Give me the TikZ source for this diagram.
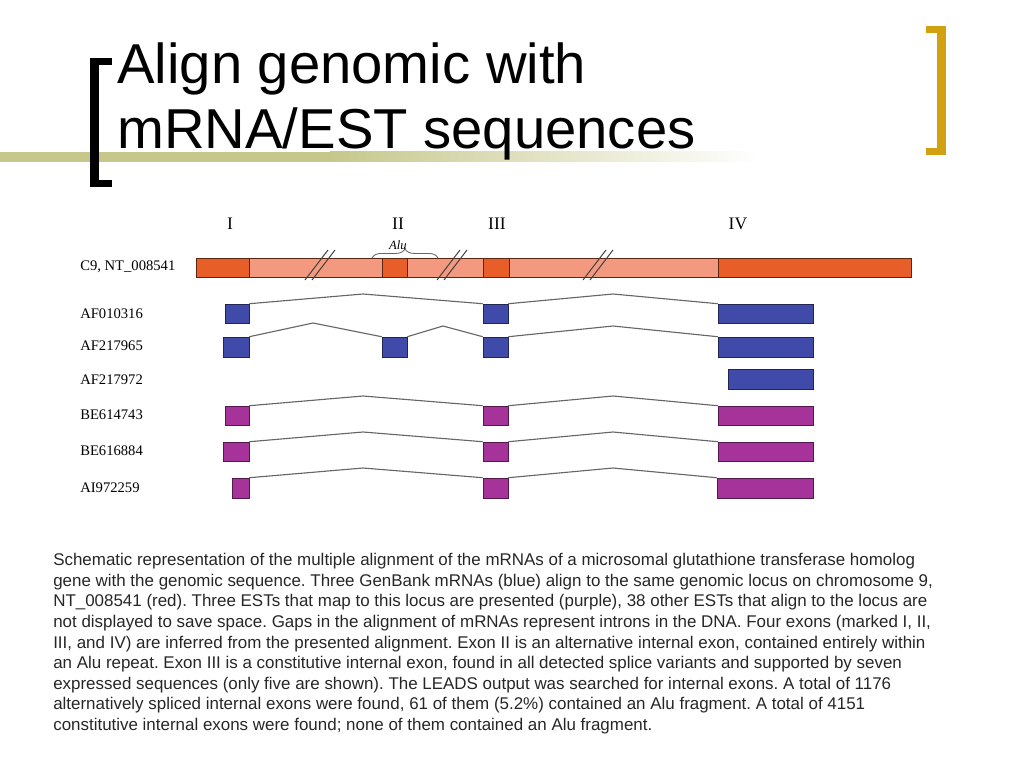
\documentclass[tikz,border=0pt]{standalone}
\usepackage{fontspec}
\setmainfont{Liberation Serif}
\newfontfamily\headfont{Liberation Sans}
\usepackage{xcolor}
\usepackage{tikz}
\usetikzlibrary{positioning, fit, calc, decorations.pathreplacing}
\definecolor{exonorange}{rgb}{0.91, 0.37, 0.16}
\definecolor{intronsalmon}{rgb}{0.95, 0.60, 0.50}
\definecolor{mrnablue}{rgb}{0.25, 0.29, 0.66}
\definecolor{estpurple}{rgb}{0.65, 0.20, 0.60}
\definecolor{bracketgold}{rgb}{0.82, 0.63, 0.07}
\definecolor{bandolive}{rgb}{0.78, 0.78, 0.55}
\definecolor{captiongray}{rgb}{0.15, 0.15, 0.15}

\begin{document}
\frenchspacing
\begin{tikzpicture}[x=0.025cm, y=-0.025cm]
\useasboundingbox (0,0) rectangle (1024,768);
\tikzstyle{gexon}=[draw=black!60!exonorange, fill=exonorange, inner sep=0pt, line width=0.4pt]
\tikzstyle{gintron}=[draw=black!60!exonorange, fill=intronsalmon, inner sep=0pt, line width=0.4pt]
\tikzstyle{mexon}=[draw=black!50!mrnablue, fill=mrnablue, inner sep=0pt, line width=0.4pt]
\tikzstyle{eexon}=[draw=black!50!estpurple, fill=estpurple, inner sep=0pt, line width=0.4pt]
\tikzstyle{intron}=[draw=black!60, line width=0.8pt]
\tikzstyle{cutmark}=[draw=black!75, line width=0.7pt]
\tikzstyle{seqlabel}=[anchor=west, inner sep=0pt, font=\fontsize{10.4}{12}\selectfont]
\tikzstyle{exonmark}=[inner sep=0pt, font=\fontsize{12.5}{14}\selectfont]
\tikzstyle{titleline}=[anchor=base west, inner sep=0pt, font=\headfont\fontsize{40}{46}\selectfont]
%% title and slide decoration
\fill[bandolive] (0,152) rectangle (330,162);
\shade[left color=bandolive, right color=white] (330,152) rectangle (760,162);
\fill[black] (90,58) rectangle (99,187);
\fill[black] (90,58) rectangle (112,65);
\fill[black] (90,180) rectangle (112,187);
\fill[bracketgold] (937,26) rectangle (946,155);
\fill[bracketgold] (926,26) rectangle (946,33);
\fill[bracketgold] (926,148) rectangle (946,155);
\node (title1) at (117,84) [titleline] {Align genomic with};
\node (title2) at (117,149) [titleline] {mRNA/EST sequences};
%% exon numbers
\node (m1) at (230,224) [exonmark] {I};
\node (m2) at (398,224) [exonmark] {II};
\node (m3) at (497,224) [exonmark] {III};
\node (m4) at (738,224) [exonmark] {IV};
%% genomic sequence
\node (gbar) [gintron, fit={(196,258) (911,277)}] {};
\node (g1) [gexon, fit={(196,258) (249,277)}] {};
\node (g2) [gexon, fit={(382,258) (407,277)}] {};
\node (g3) [gexon, fit={(483,258) (509,277)}] {};
\node (g4) [gexon, fit={(718,258) (911,277)}] {};
\draw [cutmark] (305,280) -- (328,250);
\draw [cutmark] (312,280) -- (335,250);
\draw [cutmark] (437,280) -- (460,250);
\draw [cutmark] (444,280) -- (467,250);
\draw [cutmark] (583,280) -- (606,250);
\draw [cutmark] (590,280) -- (613,250);
\draw [black!60, line width=0.6pt, decorate, decoration={brace, amplitude=6.5pt}] (372,258) -- (438,258);
\node (alu) at (398,245) [inner sep=0pt, font=\itshape\fontsize{9}{10}\selectfont] {Alu};
%% labels
\node (lg) at (80,267) [seqlabel] {C9, NT\_008541};
\node (l1) at (80,314) [seqlabel] {AF010316};
\node (l2) at (80,346) [seqlabel] {AF217965};
\node (l3) at (80,380) [seqlabel] {AF217972};
\node (l4) at (80,415) [seqlabel] {BE614743};
\node (l5) at (80,451) [seqlabel] {BE616884};
\node (l6) at (80,488) [seqlabel] {AI972259};
%% AF010316
\node (a1) [mexon, fit={(225,304) (249,323)}] {};
\node (a3) [mexon, fit={(483,304) (508,323)}] {};
\node (a4) [mexon, fit={(718,304) (813,323)}] {};
\coordinate (a13) at (363,294);
\coordinate (a34) at (613,294);
\draw [intron] (a1.north east) -- (a13) -- (a3.north west);
\draw [intron] (a3.north east) -- (a34) -- (a4.north west);
%% AF217965
\node (b1) [mexon, fit={(223,337) (249,357)}] {};
\node (b2) [mexon, fit={(382,337) (407,357)}] {};
\node (b3) [mexon, fit={(483,337) (508,357)}] {};
\node (b4) [mexon, fit={(718,337) (813,357)}] {};
\coordinate (b12) at (313,323);
\coordinate (b23) at (443,326);
\coordinate (b34) at (613,326);
\draw [intron] (b1.north east) -- (b12) -- (b2.north west);
\draw [intron] (b2.north east) -- (b23) -- (b3.north west);
\draw [intron] (b3.north east) -- (b34) -- (b4.north west);
%% AF217972
\node (c4) [mexon, fit={(728,369) (813,389)}] {};
%% BE614743
\node (d1) [eexon, fit={(225,406) (249,425)}] {};
\node (d3) [eexon, fit={(483,406) (508,425)}] {};
\node (d4) [eexon, fit={(718,406) (813,425)}] {};
\coordinate (d13) at (363,396);
\coordinate (d34) at (613,396);
\draw [intron] (d1.north east) -- (d13) -- (d3.north west);
\draw [intron] (d3.north east) -- (d34) -- (d4.north west);
%% BE616884
\node (e1) [eexon, fit={(223,442) (249,461)}] {};
\node (e3) [eexon, fit={(483,442) (508,461)}] {};
\node (e4) [eexon, fit={(718,442) (813,461)}] {};
\coordinate (e13) at (363,432);
\coordinate (e34) at (613,432);
\draw [intron] (e1.north east) -- (e13) -- (e3.north west);
\draw [intron] (e3.north east) -- (e34) -- (e4.north west);
%% AI972259
\node (f1) [eexon, fit={(232,478) (249,498)}] {};
\node (f3) [eexon, fit={(483,478) (508,498)}] {};
\node (f4) [eexon, fit={(717,478) (813,498)}] {};
\coordinate (f13) at (363,468);
\coordinate (f34) at (613,468);
\draw [intron] (f1.north east) -- (f13) -- (f3.north west);
\draw [intron] (f3.north east) -- (f34) -- (f4.north west);
%% caption
\node (caption) at (53,553) [anchor=north west, align=left, inner sep=0pt, text=captiongray, font=\headfont\fontsize{12.05}{14.66}\selectfont] {Schematic representation of the multiple alignment of the mRNAs of a microsomal glutathione transferase homolog\\
gene with the genomic sequence. Three GenBank mRNAs (blue) align to the same genomic locus on chromosome 9,\\
NT\_008541 (red). Three ESTs that map to this locus are presented (purple), 38 other ESTs that align to the locus are\\
not displayed to save space. Gaps in the alignment of mRNAs represent introns in the DNA. Four exons (marked I, II,\\
III, and IV) are inferred from the presented alignment. Exon II is an alternative internal exon, contained entirely within\\
an Alu repeat. Exon III is a constitutive internal exon, found in all detected splice variants and supported by seven\\
expressed sequences (only five are shown). The LEADS output was searched for internal exons. A total of 1176\\
alternatively spliced internal exons were found, 61 of them (5.2\%) contained an Alu fragment. A total of 4151\\
constitutive internal exons were found; none of them contained an Alu fragment.};
\end{tikzpicture}
\end{document}
